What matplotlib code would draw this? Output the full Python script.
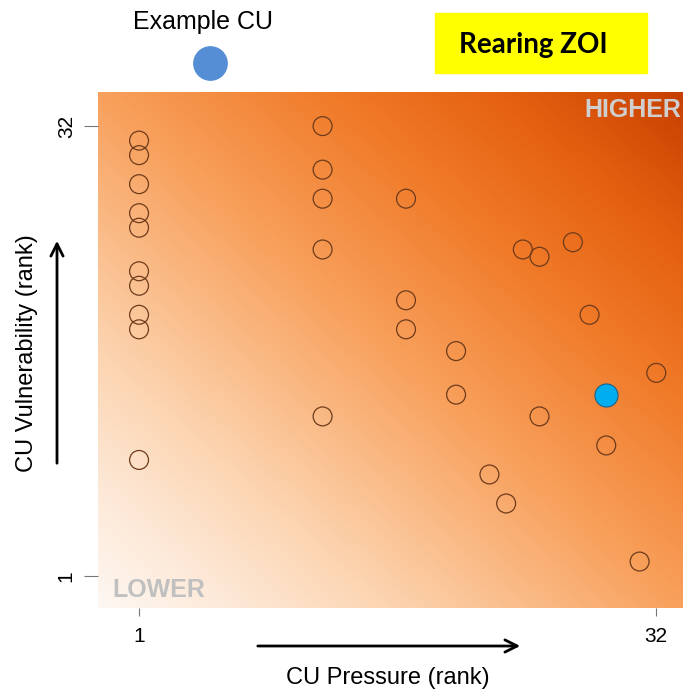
import numpy as np
import matplotlib
matplotlib.use("Agg")
import matplotlib.pyplot as plt
from matplotlib.colors import LinearSegmentedColormap
from matplotlib.patches import Rectangle

plt.rcParams['font.family'] = ['Liberation Sans', 'DejaVu Sans']

# CU ranks (pressure on x, vulnerability on y)
pressure = [1, 1, 1, 1, 1, 1, 1, 1, 1, 1,
            12, 12, 12, 12, 12,
            17, 17, 17,
            20, 20,
            22, 23, 24, 25, 25, 27, 28, 29, 32, 31]
vulnerability = [31, 30, 28, 26, 25, 22, 21, 19, 18, 9,
                 32, 29, 27, 23.5, 12,
                 27, 20, 18,
                 16.5, 13.5,
                 8, 6, 23.5, 23, 12, 24, 19, 10, 15, 2]
example_pressure = [29]
example_vulnerability = [13.5]
tick_values = [1, 32]

fig = plt.figure(figsize=(6.83, 6.92), dpi=100)
ax = fig.add_axes([98 / 683, 1 - 608 / 692, 585 / 683, 516 / 692])

xlim = (-1.46, 33.6)
ylim = (-1.2, 34.35)

# background gradient: light at bottom-left, dark orange at top-right
cmap = LinearSegmentedColormap.from_list('zoi', [
    (0.0, '#fef7f2'),
    (0.12, '#fde8d6'),
    (0.25, '#fcd4b0'),
    (0.5, '#f8a05c'),
    (0.7, '#f07a28'),
    (0.85, '#e46010'),
    (1.0, '#c84000'),
])
u = np.linspace(0, 1, 300)
v = np.linspace(0, 1, 300)
U, V = np.meshgrid(u, v)
T = (U + V) / 2
ax.imshow(T, cmap=cmap, origin='lower', extent=[xlim[0], xlim[1], ylim[0], ylim[1]],
          aspect='auto', vmin=0, vmax=1, zorder=0)

ax.scatter(pressure, vulnerability, s=185, facecolors='none', edgecolors='#6e3b1c',
           linewidths=0.9, zorder=2)
ax.scatter(example_pressure, example_vulnerability, s=275, color='#00aeef',
           edgecolors='#1a5f8a', linewidths=0.8, zorder=3)

ax.set_xlim(*xlim)
ax.set_ylim(*ylim)
for s in ax.spines.values():
    s.set_visible(False)
ax.set_xticks(tick_values)
ax.set_yticks(tick_values)
ax.set_xticklabels([str(t) for t in tick_values], fontsize=15)
ax.set_yticklabels([str(t) for t in tick_values], fontsize=15, rotation=90, va='center')
ax.tick_params(axis='x', length=6, width=0.8, color='#777777', pad=8)
ax.tick_params(axis='y', length=10, width=0.8, color='#777777', pad=6)

ax.text(0.997, 0.965, 'HIGHER', transform=ax.transAxes, ha='right', va='center',
        fontsize=18, fontweight='bold', color='#cfcfcf')
ax.text(0.025, 0.035, 'LOWER', transform=ax.transAxes, ha='left', va='center',
        fontsize=18, fontweight='bold', color='#c0c0c0')

# axis labels with direction arrows
fig.text(388 / 683, 1 - 678 / 692, 'CU Pressure (rank)', ha='center', va='center',
         fontsize=17)
fig.text(27 / 683, 1 - 353 / 692, 'CU Vulnerability (rank)', ha='center', va='center',
         fontsize=17, rotation=90)
ax.annotate('', xy=(523 / 683, 1 - 646 / 692), xytext=(255 / 683, 1 - 646 / 692),
            xycoords='figure fraction', textcoords='figure fraction',
            arrowprops=dict(arrowstyle='->', lw=2, color='black', mutation_scale=22))
ax.annotate('', xy=(57 / 683, 1 - 238 / 692), xytext=(57 / 683, 1 - 466 / 692),
            xycoords='figure fraction', textcoords='figure fraction',
            arrowprops=dict(arrowstyle='->', lw=2, color='black', mutation_scale=22))

# legend-like example marker
fig.text(203 / 683, 1 - 22 / 692, 'Example CU', ha='center', va='center', fontsize=18)
fig.add_artist(plt.Line2D([210 / 683], [1 - 63 / 692], marker='o', markersize=24,
                          color='#558ed5', transform=fig.transFigure))

# yellow title box
fig.patches.append(Rectangle((435 / 683, 1 - 73 / 692), 212 / 683, 60 / 692,
                             transform=fig.transFigure, color='#ffff00', zorder=1))
fig.text(533 / 683, 1 - 45 / 692, 'Rearing ZOI', ha='center', va='center',
         fontsize=20, fontweight='bold', family=['Lato', 'DejaVu Sans'], zorder=2)

fig.savefig('out.png', dpi=100)
